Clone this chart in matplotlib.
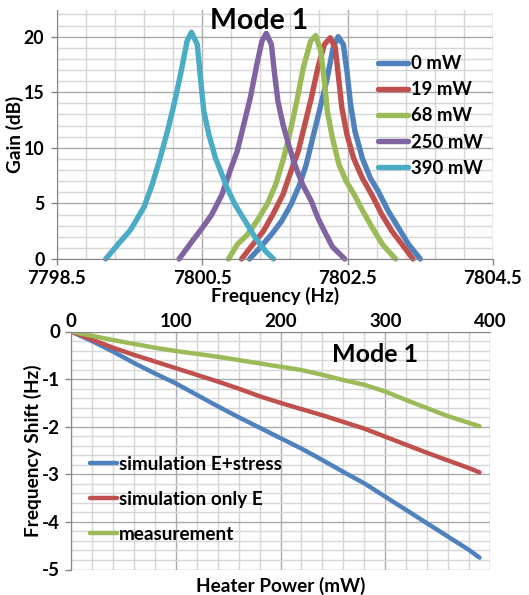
import matplotlib
matplotlib.use('Agg')
import matplotlib.pyplot as plt
from matplotlib.ticker import FixedLocator
import numpy as np

plt.rcParams['font.family'] = ['Lato', 'DejaVu Sans']
plt.rcParams['font.weight'] = 'bold'
plt.rcParams['axes.unicode_minus'] = False

# ---------------- data: top chart (gain vs frequency) ----------------
freq_0mW = [7801.15, 7801.29, 7801.45, 7801.59, 7801.72, 7801.84, 7801.93, 7802.02, 7802.11,
            7802.21, 7802.30, 7802.37, 7802.44, 7802.49, 7802.54, 7802.60, 7802.70, 7802.81,
            7802.92, 7803.06, 7803.20, 7803.34, 7803.50]
gain_0mW = [0, 1.0, 2.2, 3.4, 4.9, 6.7, 8.5, 10.9, 13.3, 16.0, 19.0, 20.0, 19.3, 16.9, 13.9,
            11.5, 9.1, 7.3, 6.1, 4.3, 2.8, 1.3, 0]

freq_19mW = [7801.04, 7801.17, 7801.34, 7801.47, 7801.61, 7801.72, 7801.82, 7801.91, 7802.00,
             7802.09, 7802.18, 7802.26, 7802.33, 7802.37, 7802.42, 7802.49, 7802.58, 7802.70,
             7802.83, 7802.97, 7803.11, 7803.25, 7803.40]
gain_19mW = [0, 1.1, 2.5, 4.0, 5.8, 7.9, 9.7, 12.1, 14.5, 17.2, 19.3, 19.9, 19.0, 16.6, 13.6,
             11.2, 9.1, 7.3, 5.8, 4.0, 2.5, 1.3, 0]

freq_68mW = [7800.86, 7800.98, 7801.12, 7801.25, 7801.39, 7801.51, 7801.62, 7801.71, 7801.80,
             7801.89, 7801.99, 7802.06, 7802.13, 7802.18, 7802.22, 7802.29, 7802.38, 7802.48,
             7802.59, 7802.71, 7802.84, 7802.98, 7803.16]
gain_68mW = [0, 1.3, 2.2, 3.4, 4.9, 6.7, 9.1, 11.5, 14.2, 17.2, 19.6, 20.1, 18.7, 16.0, 13.3,
             10.9, 8.5, 7.0, 5.8, 4.3, 2.8, 1.3, 0]

freq_250mW = [7800.18, 7800.36, 7800.50, 7800.63, 7800.77, 7800.88, 7800.98, 7801.07, 7801.16,
              7801.25, 7801.32, 7801.38, 7801.45, 7801.49, 7801.54, 7801.61, 7801.70, 7801.79,
              7801.88, 7802.00, 7802.09, 7802.18, 7802.29, 7802.46]
gain_250mW = [0, 1.6, 2.8, 4.0, 5.8, 7.9, 9.7, 12.1, 14.5, 17.5, 19.6, 20.3, 19.3, 16.9, 14.2,
              12.1, 10.0, 8.2, 6.7, 5.2, 3.7, 2.5, 1.1, 0]

freq_390mW = [7799.17, 7799.35, 7799.51, 7799.70, 7799.81, 7799.92, 7800.02, 7800.11, 7800.20,
              7800.29, 7800.35, 7800.43, 7800.47, 7800.52, 7800.59, 7800.68, 7800.77, 7800.84,
              7800.95, 7801.09, 7801.23, 7801.37, 7801.48]
gain_390mW = [0, 1.4, 2.6, 4.7, 6.7, 9.1, 11.5, 13.9, 16.6, 19.6, 20.4, 19.3, 16.6, 13.3, 11.2,
              9.1, 7.6, 6.4, 4.9, 3.4, 1.9, 0.7, 0]

power_labels = ['0 mW', '19 mW', '68 mW', '250 mW', '390 mW']
freq_ticks = [7798.5, 7800.5, 7802.5, 7804.5]
gain_ticks = [0, 5, 10, 15, 20]

# ---------------- data: bottom chart (frequency shift vs heater power) ----------------
heater_power = [0, 20, 40, 60, 80, 100, 120, 140, 160, 180, 200, 220, 240, 260, 280, 300,
                320, 340, 360, 380, 390]
shift_sim_E_stress = [0, -0.20, -0.42, -0.66, -0.88, -1.09, -1.33, -1.57, -1.80, -2.02, -2.24,
                      -2.46, -2.70, -2.95, -3.19, -3.47, -3.75, -4.03, -4.31, -4.59, -4.75]
shift_sim_only_E = [0, -0.17, -0.34, -0.49, -0.63, -0.77, -0.91, -1.05, -1.20, -1.36, -1.50,
                    -1.63, -1.76, -1.90, -2.04, -2.21, -2.38, -2.55, -2.71, -2.87, -2.96]
shift_measurement = [0, -0.09, -0.18, -0.26, -0.34, -0.41, -0.47, -0.53, -0.60, -0.67, -0.74,
                     -0.81, -0.91, -1.02, -1.12, -1.26, -1.44, -1.61, -1.78, -1.92, -1.99]
shift_labels = ['simulation E+stress', 'simulation only E', 'measurement']
power_ticks = [0, 100, 200, 300, 400]
shift_ticks = [0, -1, -2, -3, -4, -5]

# ---------------- style ----------------
c_blue = '#4F81BD'
c_red = '#C0504D'
c_green = '#9BBB59'
c_purple = '#8064A2'
c_cyan = '#4BACC6'
major_grid = '#aaaaaa'
minor_grid = '#d6d6d6'
axis_col = '#868686'
tick_fs = 13.5
label_fs = 13.7

W, H = 529, 595
fig = plt.figure(figsize=(W / 100, H / 100), dpi=100)


def style_axes(ax):
    ax.set_axisbelow(True)
    ax.grid(which='major', color=major_grid, lw=1.0)
    ax.grid(which='minor', color=minor_grid, lw=1.0)
    for s in ax.spines.values():
        s.set_visible(False)
    ax.tick_params(which='minor', length=0)
    ax.tick_params(which='major', length=4, width=1, color=axis_col,
                   labelsize=tick_fs, pad=3)
    for lbl in ax.get_xticklabels() + ax.get_yticklabels():
        lbl.set_fontweight('bold')


# ---- top chart ----
ax1 = fig.add_axes([57 / W, 1 - 259 / H, (493 - 57) / W, (259 - 10) / H])
ax1.set_xlim(7798.5, 7804.5)
ax1.set_ylim(0, 22.4)
ax1.xaxis.set_major_locator(FixedLocator(freq_ticks))
ax1.xaxis.set_minor_locator(FixedLocator(np.linspace(7798.5, 7804.5, 16)))
ax1.yaxis.set_major_locator(FixedLocator(gain_ticks))
ax1.yaxis.set_minor_locator(FixedLocator(np.arange(0, 23, 1)))
ax1.set_xticklabels([f'{t:.1f}' for t in freq_ticks])
ax1.set_yticklabels([str(t) for t in gain_ticks])
style_axes(ax1)
ax1.spines['left'].set_visible(True)
ax1.spines['left'].set_color(axis_col)
ax1.spines['bottom'].set_visible(True)
ax1.spines['bottom'].set_color(axis_col)
ax1.tick_params(axis='x', pad=4)
ax1.tick_params(axis='y', pad=5, labelsize=12.8)

lw_top = 3.9
for f, g, col, lab in [(freq_0mW, gain_0mW, c_blue, power_labels[0]),
                       (freq_19mW, gain_19mW, c_red, power_labels[1]),
                       (freq_68mW, gain_68mW, c_green, power_labels[2]),
                       (freq_250mW, gain_250mW, c_purple, power_labels[3]),
                       (freq_390mW, gain_390mW, c_cyan, power_labels[4])]:
    ax1.plot(f, g, color=col, lw=lw_top, label=lab, solid_joinstyle='round',
             solid_capstyle='round', clip_on=False)

ax1.set_xlabel('Frequency (Hz)', fontsize=label_fs, fontweight='bold', labelpad=0)
ax1.set_ylabel('Gain (dB)', fontsize=label_fs, fontweight='bold')
ax1.yaxis.set_label_coords((24 - 57) / 436, 0.5)
fig.text(259 / W, 1 - 21 / H, 'Mode 1', fontsize=20.5, fontweight='bold',
         ha='center', va='center')
leg1 = ax1.legend(loc='upper left', bbox_to_anchor=(378 / W, 1 - 55 / H),
                  bbox_transform=fig.transFigure, frameon=False,
                  prop={'size': 13.3, 'weight': 'bold'}, handlelength=1.65,
                  handletextpad=0.12, labelspacing=0.5, borderaxespad=0, borderpad=0)

# ---- bottom chart ----
ax2 = fig.add_axes([71 / W, 1 - 569.5 / H, (490 - 71) / W, (569.5 - 331.5) / H])
ax2.set_xlim(0, 400)
ax2.set_ylim(-5, 0)
ax2.xaxis.set_major_locator(FixedLocator(power_ticks))
ax2.xaxis.set_minor_locator(FixedLocator(np.arange(0, 401, 20)))
ax2.yaxis.set_major_locator(FixedLocator(shift_ticks))
ax2.yaxis.set_minor_locator(FixedLocator(np.round(np.arange(-5, 0.01, 0.2), 1)))
ax2.set_xticklabels([str(t) for t in power_ticks])
ax2.set_yticklabels([str(t) for t in shift_ticks])
style_axes(ax2)
ax2.xaxis.tick_top()
ax2.spines['left'].set_visible(True)
ax2.spines['left'].set_color(axis_col)
ax2.spines['top'].set_visible(True)
ax2.spines['top'].set_color(axis_col)
ax2.tick_params(axis='x', which='major', pad=1, length=0)
ax2.tick_params(axis='y', which='major', pad=4)

lw_bot = 3.2
for y, col, lab in [(shift_sim_E_stress, c_blue, shift_labels[0]),
                    (shift_sim_only_E, c_red, shift_labels[1]),
                    (shift_measurement, c_green, shift_labels[2])]:
    ax2.plot(heater_power, y, color=col, lw=lw_bot, label=lab, solid_capstyle='round',
             solid_joinstyle='round')

ax2.set_xlabel('Heater Power (mW)', fontsize=label_fs, fontweight='bold', labelpad=5)
ax2.set_ylabel('Frequency Shift (Hz)', fontsize=label_fs, fontweight='bold')
ax2.yaxis.set_label_coords((42 - 71) / 419, 0.5)
ax2.text(375 / W, 1 - 355 / H, 'Mode 1', transform=fig.transFigure, fontsize=18,
         fontweight='bold', ha='center', va='center')
leg2 = ax2.legend(loc='upper left', bbox_to_anchor=(90 / W, 1 - 456 / H),
                  bbox_transform=fig.transFigure, frameon=False,
                  prop={'size': 13.6, 'weight': 'bold'}, handlelength=1.45,
                  handletextpad=0.1, labelspacing=0.95, borderaxespad=0, borderpad=0)

fig.savefig('out.png', dpi=100)
